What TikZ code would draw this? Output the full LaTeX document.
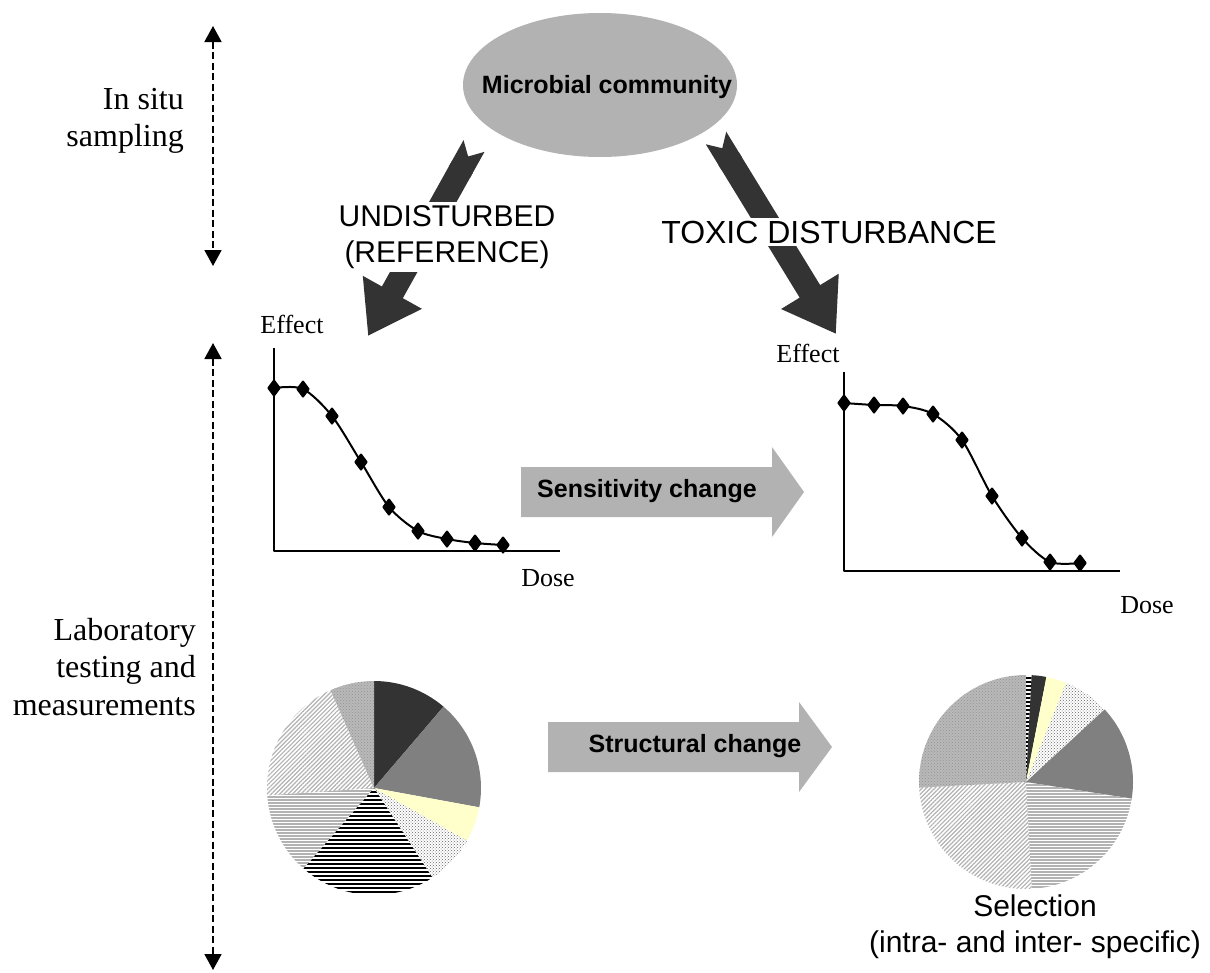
\documentclass[tikz,border=0pt]{standalone}
\usepackage{fontspec}
\setmainfont{Liberation Serif}
\newfontfamily\arialfont{Liberation Sans}
\usetikzlibrary{arrows.meta,plotmarks,patterns,patterns.meta}

\definecolor{bubblegray}{RGB}{178,178,178}
\definecolor{arrowdark}{RGB}{51,51,51}
\definecolor{midgray}{RGB}{128,128,128}
\definecolor{paleyellow}{RGB}{255,255,204}

\begin{document}
\begin{tikzpicture}[
    x=1pt,
    y=-1pt,
    line join=round,
    bubble/.style={
        inner sep=0pt,
        font=\arialfont\bfseries\fontsize{25}{30}\selectfont
    },
    sidelabel/.style={
        align=right,
        inner sep=0pt,
        font=\fontsize{32}{37.5}\selectfont
    },
    scalearrow/.style={
        line width=1.8pt,
        dash pattern=on 7pt off 3.5pt,
        {Triangle[length=16pt,width=17pt]}-{Triangle[length=16pt,width=17pt]}
    },
    bigarrow/.style={
        line width=24pt,
        draw=arrowdark,
        {Triangle Cap[reversed]}-{Triangle[length=50pt,width=64pt]}
    },
    branchtext/.style={
        fill=white,
        inner sep=3pt,
        align=center,
        font=\arialfont\fontsize{30}{36}\selectfont
    },
    axis/.style={line width=1.5pt},
    curve/.style={line width=2pt},
    axislabel/.style={inner sep=0pt, font=\fontsize{26}{30}\selectfont},
    change/.style={fill=bubblegray},
    changetext/.style={font=\arialfont\bfseries\fontsize{25}{30}\selectfont},
    pdark/.style={fill=arrowdark},
    pmid/.style={fill=midgray},
    pyellow/.style={fill=paleyellow},
    pdots/.style={pattern=crosshatch dots, pattern color=gray!80!black},
    pdiag/.style={pattern={Lines[angle=45,distance=3pt,line width=1.2pt]}, pattern color=gray!60},
    pcheck/.style={preaction={fill=gray!55}, pattern=crosshatch dots, pattern color=gray!85},
    blackline/.style={line width=2.2pt, black},
    grayline/.style={line width=1.4pt, gray!60}
]

\path[fill=white] (0,0) rectangle (1210,972);
\useasboundingbox (0,0) rectangle (1210,972);

% =========================
% Side scales
% =========================
\coordinate (insituTop) at (213,26);
\coordinate (insituBot) at (213,266);
\coordinate (labTop) at (213,343);
\coordinate (labBot) at (213,970);

\draw[scalearrow] (insituTop) -- (insituBot);
\draw[scalearrow] (labTop) -- (labBot);

\node[sidelabel, anchor=north east] (insitu) at (184,88) {In situ\\sampling};
\node[sidelabel, anchor=north east] (lab) at (196,618) {Laboratory\\testing and\\measurements};

% =========================
% Community and branches
% =========================
\coordinate (communityCenter) at (600,85);
\fill[bubblegray] (communityCenter) ellipse [x radius=137, y radius=72];
\node[bubble] (community) at (607,87) {Microbial community};

\coordinate (undTail) at (474,146);
\coordinate (undTip) at (368,336);
\coordinate (toxTail) at (716,138);
\coordinate (toxTip) at (836,334);

\draw[bigarrow] (undTail) -- (undTip);
\draw[bigarrow] (toxTail) -- (toxTip);

\node[branchtext] (undisturbed) at (447,237) {UNDISTURBED\\(REFERENCE)};
\node[branchtext, font=\arialfont\fontsize{32}{36}\selectfont] (toxic) at (829,232) {TOXIC DISTURBANCE};

% =========================
% Dose-response curves
% =========================
\draw[axis] (274,348) -- (274,551) -- (560,551);
\draw[curve] plot[smooth, mark=diamond*, mark size=7.5pt, mark options={fill=black}] coordinates {(274,388) (303,389) (332,416) (361,462) (389,507) (418,531) (447,539) (475,543) (503,545)};
\node[axislabel] (refeffect) at (292,324) {Effect};
\node[axislabel] (refdose) at (548,578) {Dose};

\draw[axis] (844,372) -- (844,571) -- (1120,571);
\draw[curve] plot[smooth, mark=diamond*, mark size=7.5pt, mark options={fill=black}] coordinates {(844,403) (874,405) (903,406) (933,414) (962,440) (992,496) (1022,538) (1050,562) (1080,563)};
\node[axislabel] (toxeffect) at (808,353) {Effect};
\node[axislabel] (toxdose) at (1147,605) {Dose};

\fill[change] (521,467) -- (772,467) -- (772,447) -- (804,492) -- (772,537) -- (772,517) -- (521,517) -- cycle;
\node[changetext] (sensitivity) at (647,491) {Sensitivity change};

% =========================
% Community structure
% =========================
\coordinate (refpie) at (374,788);
\coordinate (toxpie) at (1026,782);

\foreach \a/\b/\s in {-90/-49.5/pdark, -49.5/10.4/pmid, 10.4/29.5/pyellow, 29.5/56.9/pdots,
                      176/246/pdiag, 246/270/pcheck}
    \path[\s] (refpie) -- ++(\a:107) arc[start angle=\a, end angle=\b, radius=107] -- cycle;

\foreach \a/\b/\s in {-87/-79/pdark, -79/-68/pyellow, -68/-42.7/pdots,
                      -42.7/8.9/pmid, 86.9/177/pdiag, 177/270/pcheck}
    \path[\s] (toxpie) -- ++(\a:107) arc[start angle=\a, end angle=\b, radius=107] -- cycle;

% striped slices
\foreach \c/\a/\b/\s/\d in {refpie/56.9/131.2/blackline/4, refpie/131.2/176/grayline/3,
                            toxpie/-90/-87/blackline/4, toxpie/8.9/86.9/grayline/3} {
    \begin{scope}
        \clip (\c) -- ++(\a:107) arc[start angle=\a, end angle=\b, radius=107] -- cycle;
        \foreach \k in {-37,...,37}
            \draw[\s] ([shift={(-110,\d*\k)}]\c) -- ++(220,0);
    \end{scope}
}

\fill[change] (548,722) -- (799,722) -- (799,702) -- (832,747) -- (799,792) -- (799,772) -- (548,772) -- cycle;
\node[changetext] (structural) at (695,746) {Structural change};

\node[branchtext, fill=none] (selection) at (1035,927) {Selection\\(intra- and inter- specific)};

\end{tikzpicture}
\end{document}
